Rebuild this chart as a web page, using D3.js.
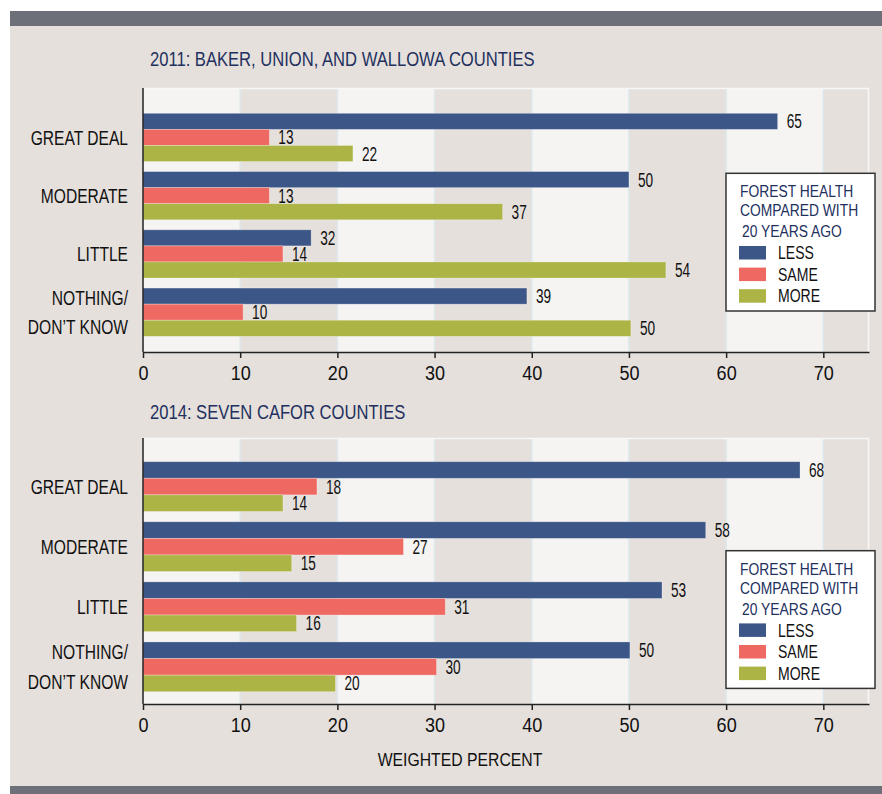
<!DOCTYPE html>
<html>
<head>
<meta charset="utf-8">
<script src="https://cdn.jsdelivr.net/npm/d3@7"></script>
<style>
  body { margin: 0; background: #fff; }
  svg { display: block; font-family: "Liberation Sans", Arial, sans-serif; }
</style>
</head>
<body>
<script>
// categories and series
const categories = ["GREAT DEAL", "MODERATE", "LITTLE", "NOTHING/ DON’T KNOW"];
const categoryLines = [["GREAT DEAL"], ["MODERATE"], ["LITTLE"], ["NOTHING/", "DON’T KNOW"]];
const series = ["LESS", "SAME", "MORE"];
const colors = ["#3c5687", "#ef6963", "#abb444"];

// 2011 values (bar lengths as drawn) and printed labels
const less2011 = [65.3, 50, 17.3, 39.5];
const same2011 = [13, 13, 14.4, 10.3];
const more2011 = [21.6, 37, 53.8, 50.2];
const labels2011 = [[65, 13, 22], [50, 13, 37], [32, 14, 54], [39, 10, 50]];

// 2014 values and printed labels
const less2014 = [67.6, 57.9, 53.4, 50.1];
const same2014 = [17.9, 26.8, 31.1, 30.2];
const more2014 = [14.4, 15.3, 15.8, 19.8];
const labels2014 = [[68, 18, 14], [58, 27, 15], [53, 31, 16], [50, 30, 20]];

const xTicks = [0, 10, 20, 30, 40, 50, 60, 70];
const legendTitle = ["FOREST HEALTH", "COMPARED WITH", "20 YEARS AGO"];

const panels = [
  { title: "2011: BAKER, UNION, AND WALLOWA COUNTIES", values: [less2011, same2011, more2011], labels: labels2011,
    titleY: 66, top: 88, bottom: 352, bandTop: 113.3, bandBottom: 336.3, legendTop: 173.3 },
  { title: "2014: SEVEN CAFOR COUNTIES", values: [less2014, same2014, more2014], labels: labels2014,
    titleY: 419, top: 438, bottom: 704, bandTop: 461.7, bandBottom: 691.7, legendTop: 550.7 }
];

const W = 882, H = 794;
const svg = d3.select("body").append("svg")
  .attr("width", W)
  .attr("height", H);

// condensed text: place at x,y and squeeze horizontally
function squeeze(sel, x, y, sx) {
  return sel.attr("transform", `translate(${x},${y}) scale(${sx},1)`);
}

// frame
svg.append("rect").attr("x", 10).attr("y", 26).attr("width", W - 10).attr("height", 760).attr("fill", "#e6e0dc");
svg.append("rect").attr("x", 10).attr("y", 11).attr("width", W - 10).attr("height", 15).attr("fill", "#6e7079");
svg.append("rect").attr("x", 10).attr("y", 786).attr("width", W - 10).attr("height", 8).attr("fill", "#6e7079");

const xMax = 74.7;
const x = d3.scaleLinear().domain([0, xMax]).range([143, 869]);

panels.forEach((p) => {
  const g = svg.append("g");

  // Title
  g.append("text")
    .call(squeeze, 150, p.titleY, 0.83)
    .attr("fill", "#22305e")
    .attr("font-size", 20)
    .text(p.title);

  // Stripes
  const stripes = d3.range(0, xMax, 10);
  g.selectAll(".stripe")
    .data(stripes)
    .enter()
    .append("rect")
    .attr("x", d => x(d))
    .attr("y", p.top)
    .attr("width", d => x(Math.min(d + 10, xMax)) - x(d))
    .attr("height", p.bottom - p.top)
    .attr("fill", (d, i) => i % 2 === 0 ? "#f5f4f2" : "#e6e0dc");

  // faint grid lines
  g.selectAll(".grid")
    .data(xTicks.slice(1))
    .enter()
    .append("line")
    .attr("x1", d => x(d)).attr("x2", d => x(d))
    .attr("y1", p.top).attr("y2", p.bottom)
    .attr("stroke", "#dce8ec")
    .attr("stroke-width", 1.5);

  // plot border (light)
  g.append("path")
    .attr("d", `M${x(0)},${p.top + 0.5}H${x(xMax) - 0.5}V${p.bottom}`)
    .attr("fill", "none")
    .attr("stroke", "#f7f7f7")
    .attr("stroke-width", 1.5);

  const y = d3.scaleBand()
    .domain(categories)
    .range([p.bandTop, p.bandBottom])
    .paddingInner(0.172)
    .paddingOuter(0);

  const ySub = d3.scaleBand()
    .domain(series)
    .range([0, y.bandwidth()]);

  const bars = [];
  categories.forEach((c, ci) => {
    series.forEach((s, si) => {
      bars.push({ c, s, si, v: p.values[si][ci], label: p.labels[ci][si] });
    });
  });

  g.selectAll(".bar")
    .data(bars)
    .enter()
    .append("rect")
    .attr("x", x(0))
    .attr("y", d => y(d.c) + ySub(d.s))
    .attr("width", d => x(d.v) - x(0))
    .attr("height", ySub.bandwidth())
    .attr("fill", d => colors[d.si])
    .attr("stroke", "rgba(255,255,255,0.35)")
    .attr("stroke-width", 0.8);

  g.selectAll(".val")
    .data(bars)
    .enter()
    .append("text")
    .each(function (d) {
      squeeze(d3.select(this), x(d.v) + 9, y(d.c) + ySub(d.s) + ySub.bandwidth() / 2, 0.7);
    })
    .attr("dy", "0.36em")
    .attr("font-size", 19.5)
    .attr("fill", "#111")
    .text(d => d.label);

  // category labels
  categories.forEach((c, ci) => {
    const lines = categoryLines[ci];
    const cy = y(c) + y.bandwidth() / 2;
    lines.forEach((line, li) => {
      g.append("text")
        .call(squeeze, 128, cy + (li - (lines.length - 1) / 2) * 29.5, 0.78)
        .attr("dy", "0.36em")
        .attr("text-anchor", "end")
        .attr("font-size", 20)
        .attr("fill", "#111")
        .text(line);
    });
  });

  // axes
  const xAxis = g.append("g")
    .attr("transform", `translate(0,${p.bottom})`)
    .call(d3.axisBottom(x).tickValues(xTicks).tickSize(6).tickSizeOuter(0).tickPadding(7));
  xAxis.select(".domain").attr("stroke", "#222").attr("stroke-width", 1.5);
  xAxis.selectAll(".tick line").attr("stroke", "#222").attr("stroke-width", 1.5);
  xAxis.selectAll(".tick text")
    .attr("font-size", 20.5)
    .attr("font-family", null)
    .attr("transform", "scale(0.88,1)")
    .attr("fill", "#111");

  g.append("line")
    .attr("x1", x(0)).attr("x2", x(0))
    .attr("y1", p.top).attr("y2", p.bottom)
    .attr("stroke", "#222")
    .attr("stroke-width", 1.5);

  // legend
  const lx = 726, ly = p.legendTop;
  const lg = g.append("g").attr("transform", `translate(${lx},${ly})`);
  lg.append("rect")
    .attr("width", 149)
    .attr("height", 137.7)
    .attr("fill", "#fff")
    .attr("stroke", "#333")
    .attr("stroke-width", 1.5);
  const titleYs = [24, 43, 64];
  legendTitle.forEach((t, i) => {
    lg.append("text")
      .call(squeeze, i === 2 ? 16 : 14, titleYs[i], 0.84)
      .attr("font-size", 16.5)
      .attr("fill", "#22305e")
      .text(t);
  });
  series.forEach((s, i) => {
    lg.append("rect")
      .attr("x", 13)
      .attr("y", 72.7 + i * 21.6)
      .attr("width", 27)
      .attr("height", 13.5)
      .attr("fill", colors[i]);
    lg.append("text")
      .call(squeeze, 52, 72.7 + i * 21.6 + 6.75, 0.78)
      .attr("dy", "0.36em")
      .attr("font-size", 18)
      .attr("fill", "#111")
      .text(s);
  });
});

// x-axis title
svg.append("text")
  .call(squeeze, 460, 766, 0.83)
  .attr("text-anchor", "middle")
  .attr("font-size", 19)
  .attr("fill", "#111")
  .text("WEIGHTED PERCENT");
</script>
</body>
</html>
